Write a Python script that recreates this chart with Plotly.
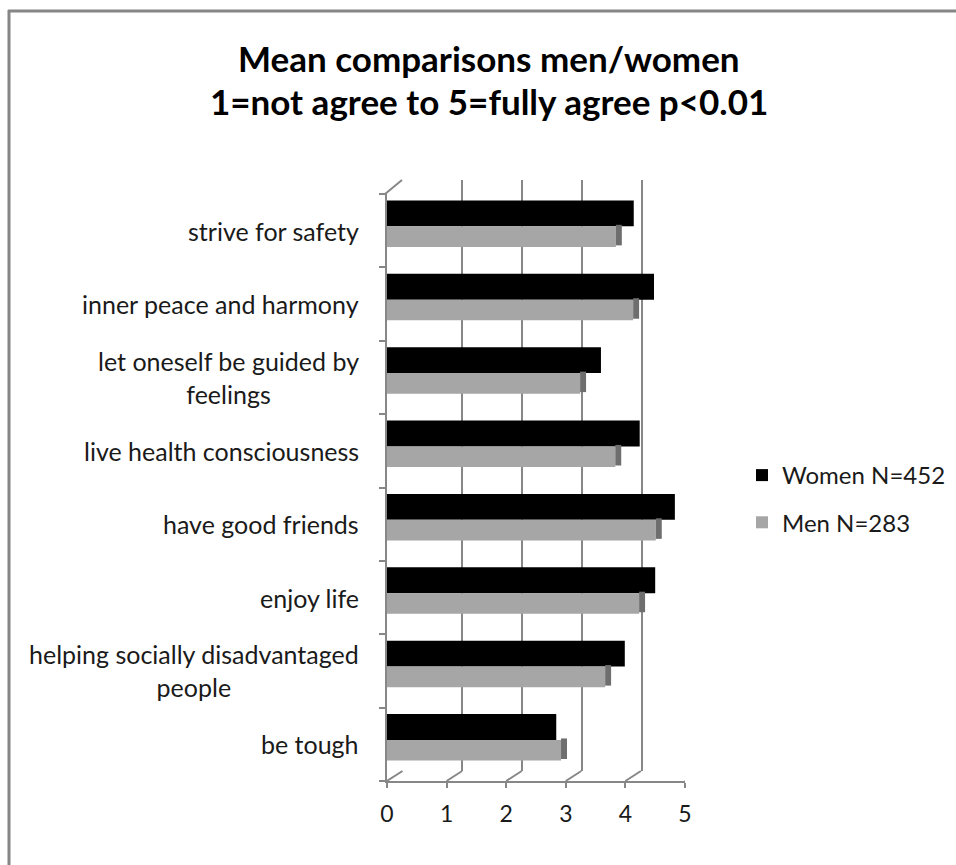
import plotly.graph_objects as go

# ---- data ----
categories = [
    "strive for safety",
    "inner peace and harmony",
    "let oneself be guided by<br>feelings",
    "live health consciousness",
    "have good friends",
    "enjoy life",
    "helping socially disadvantaged<br>people",
    "be tough",
]
women = [4.14, 4.48, 3.59, 4.24, 4.83, 4.50, 3.99, 2.84]
men = [3.84, 4.13, 3.24, 3.83, 4.51, 4.23, 3.66, 2.92]
x_ticks = [0, 1, 2, 3, 4, 5]
series_names = ["Women N=452", "Men N=283"]
title_lines = ["Mean comparisons men/women", "1=not agree to 5=fully agree p&lt;0.01"]

W, H = 956, 865
FONT = "Lato"
TXT = "#1a1a1a"


def px(xp):
    return xp / W


def py(yp):
    return 1 - yp / H


pos = list(range(len(categories)))
GRID = "#878787"

fig = go.Figure()

# back wall (gridlines) subplot: x / y
fig.add_trace(go.Scatter(x=[0, 5], y=[0, 1], mode="markers", marker=dict(opacity=0),
                         showlegend=False, hoverinfo="skip", xaxis="x", yaxis="y"))

# front bars subplot: x2 / y2
fig.add_trace(go.Bar(
    y=pos, x=women, orientation="h", name=series_names[0],
    marker=dict(color="#000000", line=dict(width=0)),
    offset=-0.413, width=0.354, xaxis="x2", yaxis="y2", legendgroup="w",
))
fig.add_trace(go.Bar(
    y=pos, x=men, orientation="h", name=series_names[1],
    marker=dict(color="#a6a6a6", line=dict(width=0)),
    offset=-0.059, width=0.281, xaxis="x2", yaxis="y2", legendgroup="m",
))
# darker side face of the grey bars
fig.add_trace(go.Bar(
    y=pos, x=[0.1] * len(men), base=men, orientation="h",
    marker=dict(color="#6e6e6e", line=dict(width=0)),
    offset=-0.08, width=0.28, xaxis="x2", yaxis="y2", showlegend=False, hoverinfo="skip",
))

n = len(categories)
fig.update_layout(
    width=W, height=H,
    margin=dict(l=0, r=0, t=0, b=0),
    paper_bgcolor="white", plot_bgcolor="rgba(0,0,0,0)",
    barmode="overlay",
    showlegend=True,
    font=dict(family=FONT, color=TXT),
    xaxis=dict(domain=[px(402), px(702)], range=[0, 5], tickvals=x_ticks,
               showgrid=True, gridcolor=GRID, gridwidth=2, showticklabels=False,
               zeroline=False, showline=False, ticks="", automargin=False, fixedrange=True),
    yaxis=dict(domain=[py(771), py(180)], range=[0, 1], showgrid=False,
               showticklabels=False, zeroline=False, showline=False, ticks="",
               automargin=False, fixedrange=True),
    xaxis2=dict(domain=[px(387), px(685)], range=[0, 5], tickvals=x_ticks,
                anchor="y2", showgrid=False, zeroline=False, showline=True,
                linecolor=GRID, linewidth=2, ticks="outside", ticklen=5,
                tickcolor=GRID, tickwidth=2, ticklabelstandoff=6,
                tickfont=dict(size=23, family=FONT, color=TXT),
                automargin=False, fixedrange=True),
    yaxis2=dict(domain=[py(781), py(194)], range=[n - 0.5, -0.5], anchor="x2",
                tickvals=[i - 0.5 for i in range(n + 1)], showticklabels=False,
                showgrid=False, zeroline=False, showline=True, linecolor=GRID,
                linewidth=2, ticks="outside", ticklen=6, tickcolor=GRID, tickwidth=2,
                automargin=False, fixedrange=True),
    legend=dict(x=px(742), y=py(453), xanchor="left", yanchor="top",
                font=dict(size=24, family=FONT, color=TXT),
                tracegroupgap=13, bgcolor="rgba(0,0,0,0)", itemwidth=30),
)

annotations = [
    dict(text="<b>%s</b>" % title_lines[0], x=px(489), y=py(58), xref="paper", yref="paper",
         xanchor="center", yanchor="middle", showarrow=False,
         font=dict(size=35, family=FONT, color="#000000")),
    dict(text="<b>%s</b>" % title_lines[1], x=px(489), y=py(101), xref="paper", yref="paper",
         xanchor="center", yanchor="middle", showarrow=False,
         font=dict(size=35, family=FONT, color="#000000")),
]
for i, c in enumerate(categories):
    annotations.append(dict(
        text=c, x=px(361), y=i, xref="paper", yref="y2", xanchor="right", yanchor="middle",
        showarrow=False, align="center", font=dict(size=25, family=FONT, color=TXT),
    ))
fig.update_layout(annotations=annotations)

shapes = [
    # chart border (left and top edges visible)
    dict(type="line", xref="paper", yref="paper", x0=px(9), x1=px(9), y0=0, y1=py(10),
         line=dict(color="#868686", width=3)),
    dict(type="line", xref="paper", yref="paper", x0=px(8), x1=1, y0=py(11), y1=py(11),
         line=dict(color="#868686", width=3)),
    # top-left wall diagonal
    dict(type="line", xref="paper", yref="paper", x0=px(385), y0=py(194), x1=px(402), y1=py(180),
         line=dict(color=GRID, width=2)),
]
# floor diagonals from front ticks to back gridlines
for k in x_ticks:
    shapes.append(dict(type="line", xref="x2", yref="paper", x0=k, y0=py(781),
                       x1=k + 0.26, y1=py(771), line=dict(color=GRID, width=2)))
fig.update_layout(shapes=shapes)

fig.write_html("out.html")
